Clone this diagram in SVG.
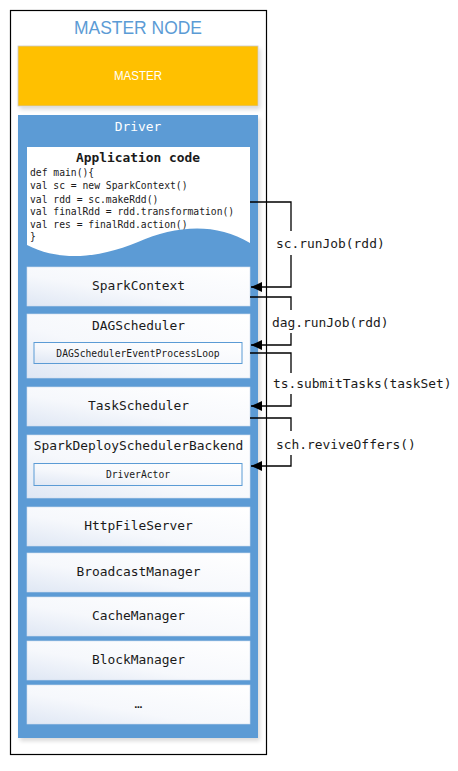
<svg xmlns="http://www.w3.org/2000/svg" width="458" height="771" viewBox="0 0 458 771">
<defs>
<linearGradient id="boxg" x1="0" y1="1" x2="1" y2="0">
<stop offset="0" stop-color="#dfe7f4"/>
<stop offset="0.4" stop-color="#f6f8fc"/>
<stop offset="1" stop-color="#ffffff"/>
</linearGradient>
<marker id="ah" markerUnits="userSpaceOnUse" markerWidth="12" markerHeight="12" refX="11" refY="5" orient="auto">
<path d="M0,0 L11,5 L0,10 Z" fill="#000"/>
</marker>
<filter id="sh" x="-10%" y="-10%" width="130%" height="130%">
<feGaussianBlur in="SourceAlpha" stdDeviation="2"/>
<feOffset dx="2" dy="3"/>
<feComponentTransfer><feFuncA type="linear" slope="0.15"/></feComponentTransfer>
<feMerge><feMergeNode/><feMergeNode in="SourceGraphic"/></feMerge>
</filter>
</defs>
<style>
.mono{font-family:"DejaVu Sans Mono","Liberation Mono",monospace;fill:#1a1a1a}
.lbl{font-size:12.9px;text-anchor:middle}
.small{font-size:9.7px;text-anchor:middle}
.code{font-size:9.7px}
.box{fill:url(#boxg);stroke:#cfdcee;stroke-width:0.6}
.inner{fill:url(#boxg);stroke:#5b9bd5;stroke-width:1}
.conn{fill:none;stroke:#000;stroke-width:1.3}
</style>
<g id="master-node">
<rect x="10.5" y="10.5" width="256" height="744" fill="#fff" stroke="#000" stroke-width="1.2"/>
<text x="138" y="33.5" font-family="Liberation Sans, Arial, sans-serif" font-size="19" fill="#5b9bd5" text-anchor="middle" textLength="128" lengthAdjust="spacingAndGlyphs">MASTER NODE</text>
</g>
<g id="master">
<rect x="18" y="46" width="240" height="60" fill="#ffc000" stroke="#c8c8c8" stroke-width="0.8" filter="url(#sh)"/>
<text x="138" y="80" font-family="Liberation Sans, Arial, sans-serif" font-size="12.5" fill="#fff" text-anchor="middle" textLength="48" lengthAdjust="spacingAndGlyphs">MASTER</text>
</g>
<g id="driver">
<rect x="18" y="115" width="240" height="623" fill="#5b9bd5" filter="url(#sh)"/>
<text x="138" y="130.5" class="mono lbl" style="fill:#fff">Driver</text>
</g>
<g id="application-code">
<path d="M27,147 H250 V243 C215,222 175,226 138,242 C100,258 60,262 27,245 Z" fill="#fff"/>
<text x="138" y="161.5" class="mono lbl" font-weight="bold">Application code</text>
<text class="mono code" x="30" y="176">def main(){</text>
<text class="mono code" x="30" y="189">val sc = new SparkContext()</text>
<text class="mono code" x="30" y="202.5">val rdd = sc.makeRdd()</text>
<text class="mono code" x="30" y="215">val finalRdd = rdd.transformation()</text>
<text class="mono code" x="30" y="227.5">val res = finalRdd.action()</text>
<text class="mono code" x="30" y="240">}</text>
</g>
<g id="spark-context">
<rect class="box" x="27" y="267" width="223" height="39"/>
<text class="mono lbl" x="138.5" y="290">SparkContext</text>
</g>
<g id="dag-scheduler">
<rect class="box" x="27" y="314" width="223" height="64"/>
<text class="mono lbl" x="138.5" y="329.5">DAGScheduler</text>
<rect class="inner" x="34" y="342.5" width="208" height="21"/>
<text class="mono small" x="138" y="356.8">DAGSchedulerEventProcessLoop</text>
</g>
<g id="task-scheduler">
<rect class="box" x="27" y="387" width="223" height="39"/>
<text class="mono lbl" x="138.5" y="410">TaskScheduler</text>
</g>
<g id="spark-deploy-scheduler-backend">
<rect class="box" x="27" y="435" width="223" height="63"/>
<text class="mono lbl" x="138.5" y="449.5">SparkDeploySchedulerBackend</text>
<rect class="inner" x="34" y="463.5" width="208" height="22"/>
<text class="mono small" x="138" y="477.5">DriverActor</text>
</g>
<g id="http-file-server">
<rect class="box" x="27" y="507" width="223" height="39"/>
<text class="mono lbl" x="138.5" y="529.5">HttpFileServer</text>
</g>
<g id="broadcast-manager">
<rect class="box" x="27" y="553" width="223" height="39"/>
<text class="mono lbl" x="138.5" y="575.5">BroadcastManager</text>
</g>
<g id="cache-manager">
<rect class="box" x="27" y="597" width="223" height="39"/>
<text class="mono lbl" x="138.5" y="620">CacheManager</text>
</g>
<g id="block-manager">
<rect class="box" x="27" y="641" width="223" height="39"/>
<text class="mono lbl" x="138.5" y="663.8">BlockManager</text>
</g>
<g id="more">
<rect class="box" x="27" y="685" width="223" height="39"/>
<text class="mono lbl" x="138.5" y="708">…</text>
</g>
<g id="connectors">
<path class="conn" d="M250,202 H291 V231"/>
<path class="conn" d="M291,255 V287 H251" marker-end="url(#ah)"/>
<text class="mono" font-size="12.9" x="276" y="247.5">sc.runJob(rdd)</text>
<path class="conn" d="M250,297 H291 V310"/>
<path class="conn" d="M291,333 V345 H251" marker-end="url(#ah)"/>
<text class="mono" font-size="12.9" x="272" y="326.5">dag.runJob(rdd)</text>
<path class="conn" d="M250,353 H291 V373"/>
<path class="conn" d="M291,394 V406 H251" marker-end="url(#ah)"/>
<text class="mono" font-size="12.9" x="273" y="388">ts.submitTasks(taskSet)</text>
<path class="conn" d="M250,418 H291 V431"/>
<path class="conn" d="M291,455 V466 H251" marker-end="url(#ah)"/>
<text class="mono" font-size="12.9" x="276" y="448.5">sch.reviveOffers()</text>
</g>
</svg>
